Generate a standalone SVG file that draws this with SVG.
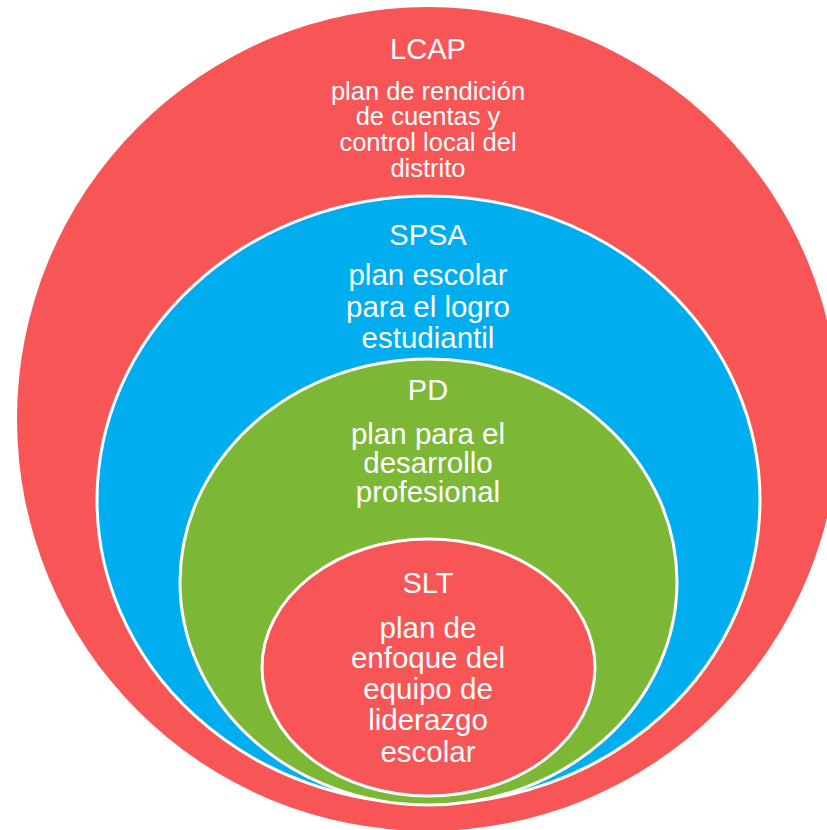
<svg xmlns="http://www.w3.org/2000/svg" width="827" height="830" viewBox="0 0 827 830">
<style>
.ring{stroke:#FFFFFF;stroke-width:3}
.red{fill:#F85556}
.blue{fill:#00AEEF}
.green{fill:#7CB835}
text{font-family:"Liberation Sans",Arial,sans-serif;fill:#FFFFFF;text-anchor:middle}
.title{font-size:29px}
.sub{font-size:29.5px}
.sub1{font-size:25.5px}
</style>
<rect width="827" height="830" fill="#FFFFFF"/>
<g id="lcap">
<ellipse class="red" cx="428" cy="419" rx="411" ry="412"/>
<text class="title" x="428" y="59">LCAP</text>
<text class="sub1" x="428" y="100">plan de rendición</text>
<text class="sub1" x="428" y="125">de cuentas y</text>
<text class="sub1" x="428" y="151">control local del</text>
<text class="sub1" x="428" y="177">distrito</text>
</g>
<g id="spsa">
<ellipse class="ring blue" cx="428.5" cy="500" rx="331.5" ry="304"/>
<text class="title" x="428" y="245">SPSA</text>
<text class="sub" x="428" y="285">plan escolar</text>
<text class="sub" x="428" y="317">para el logro</text>
<text class="sub" x="428" y="348">estudiantil</text>
</g>
<g id="pd">
<ellipse class="ring green" cx="428.5" cy="582" rx="248.5" ry="223"/>
<text class="title" x="428" y="400">PD</text>
<text class="sub" x="428" y="444">plan para el</text>
<text class="sub" x="428" y="473">desarrollo</text>
<text class="sub" x="428" y="502">profesional</text>
</g>
<g id="slt">
<ellipse class="ring red" cx="428.5" cy="667.5" rx="166.5" ry="128.5"/>
<text class="title" x="428" y="593">SLT</text>
<text class="sub" x="428" y="638">plan de</text>
<text class="sub" x="428" y="668">enfoque del</text>
<text class="sub" x="428" y="699">equipo de</text>
<text class="sub" x="428" y="730">liderazgo</text>
<text class="sub" x="428" y="762">escolar</text>
</g>
<g id="connectors"/>
</svg>
